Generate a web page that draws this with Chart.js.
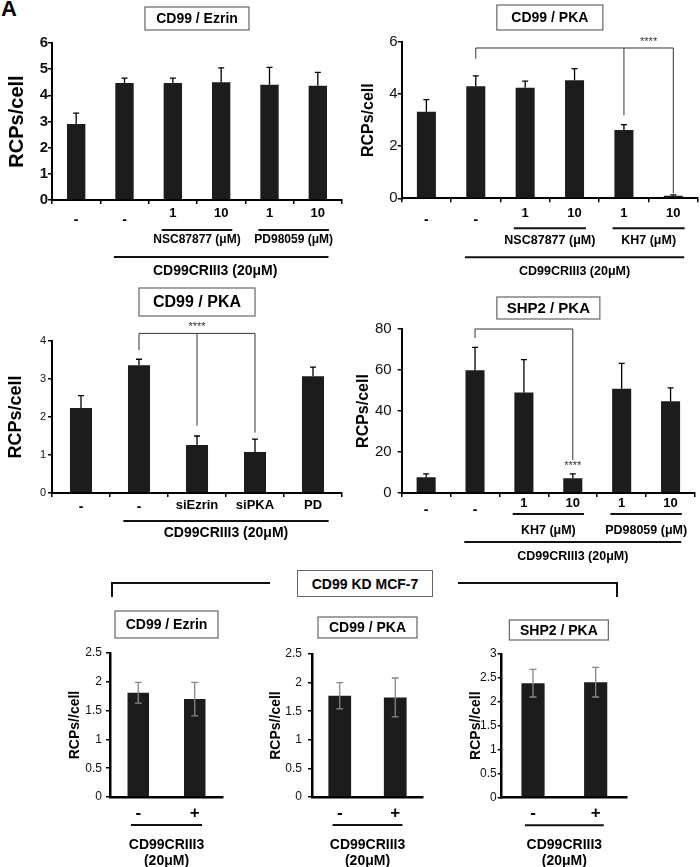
<!DOCTYPE html>
<html>
<head>
<meta charset="utf-8">
<script src="https://cdn.jsdelivr.net/npm/chart.js@4.4.1/dist/chart.umd.min.js"></script>
<style>
  body { margin: 0; background: #fff; font-family: "Liberation Sans", Arial, sans-serif; }
  #fig { position: relative; width: 700px; height: 867px; overflow: hidden; }
  canvas, .abs { position: absolute; }
  .ln { position: absolute; background: #111; }
</style>
</head>
<body>
<div id="fig">
  <div class="abs" style="left:1px;top:-4px;font-weight:bold;font-size:22px;">A</div>
  <canvas id="c1" width="350" height="285" style="left:0;top:0"></canvas>
  <canvas id="c2" width="350" height="285" style="left:350px;top:0"></canvas>
  <canvas id="c3" width="350" height="285" style="left:0;top:285px"></canvas>
  <canvas id="c4" width="350" height="285" style="left:350px;top:285px"></canvas>
  <canvas id="c5" width="233" height="267" style="left:0;top:600px"></canvas>
  <canvas id="c6" width="233" height="267" style="left:233px;top:600px"></canvas>
  <canvas id="c7" width="250" height="267" style="left:450px;top:600px"></canvas>
  <div class="ln" style="left:111px;top:582px;width:159px;height:2px"></div>
  <div class="ln" style="left:111px;top:582px;width:2px;height:15px"></div>
  <div class="ln" style="left:458px;top:582px;width:160px;height:2px"></div>
  <div class="ln" style="left:616px;top:582px;width:2px;height:15px"></div>
  <div class="abs" style="left:297px;top:570px;width:134px;height:25px;border:1px solid #666;font-weight:bold;font-size:14px;line-height:26px;text-align:center">CD99 KD MCF-7</div>
</div>
<script>
const FONT = '"Liberation Sans", Arial, sans-serif';
const treatment = 'CD99CRIII3 (20μM)';

// CD99 / Ezrin (top left)
const ezrinLabels = ['-', '-', '1', '10', '1', '10'];
const ezrinMeans = [2.9, 4.47, 4.47, 4.5, 4.4, 4.37];
const ezrinSd = [0.42, 0.19, 0.19, 0.55, 0.67, 0.51];
const ezrinGroups = [['NSC87877 (μM)', 2, 3], ['PD98059 (μM)', 4, 5]];

// CD99 / PKA (top right)
const pkaLabels = ['-', '-', '1', '10', '1', '10'];
const pkaMeans = [3.32, 4.3, 4.24, 4.53, 2.62, 0.1];
const pkaSd = [0.47, 0.4, 0.26, 0.45, 0.21, 0.03];
const pkaGroups = [['NSC87877 (μM)', 2, 3], ['KH7 (μM)', 4, 5]];
const pkaBracket = { top: 5.77, legs: [[1, 5.36], [4, 3.19], [5, 0.19]], stars: [4.5, 5.87] };

// CD99 / PKA with siRNA (middle left)
const siLabels = ['-', '-', 'siEzrin', 'siPKA', 'PD'];
const siMeans = [2.24, 3.36, 1.26, 1.08, 3.07];
const siSd = [0.32, 0.16, 0.24, 0.34, 0.24];
const siBracket = { top: 4.2, legs: [[1, 3.76], [2, 1.77], [3, 1.59]], stars: [2, 4.28] };

// SHP2 / PKA (middle right)
const shpLabels = ['-', '-', '1', '10', '1', '10'];
const shpMeans = [7.7, 59.9, 49, 7.2, 50.9, 44.7];
const shpSd = [1.6, 11.1, 16.1, 2.1, 12.3, 6.6];
const shpGroups = [['KH7 (μM)', 2, 3], ['PD98059 (μM)', 4, 5]];
const shpBracket = { top: 80, legs: [[1, 75.6], [3, 16.1]], stars: [3, 11.85] };

// CD99 KD MCF-7 (bottom row)
const kdLabels = ['-', '+'];
const kdEzrinMeans = [1.81, 1.70];
const kdEzrinSd = [0.18, 0.29];
const kdPkaMeans = [1.77, 1.74];
const kdPkaSd = [0.23, 0.34];
const kdShpMeans = [2.39, 2.41];
const kdShpSd = [0.29, 0.31];

// draws error bars, title boxes, the labels under the axis and the brackets
const annotate = {
  id: 'annotate',
  afterDatasetsDraw(chart, args, o) {
    const ds = chart.data.datasets[0];
    const bars = chart.getDatasetMeta(0).data;
    const y = chart.scales.y;
    const ctx = chart.ctx;
    ctx.save();
    ctx.strokeStyle = o.errColor;
    ctx.lineWidth = o.errWidth;
    bars.forEach((bar, i) => {
      const m = ds.data[i], e = ds.errors[i];
      const top = y.getPixelForValue(m + e);
      const low = y.getPixelForValue(o.errBoth ? m - e : m);
      ctx.beginPath();
      ctx.moveTo(bar.x, low); ctx.lineTo(bar.x, top);
      ctx.moveTo(bar.x - o.cap, top); ctx.lineTo(bar.x + o.cap, top);
      if (o.errBoth) { ctx.moveTo(bar.x - o.cap, low); ctx.lineTo(bar.x + o.cap, low); }
      ctx.stroke();
    });
    ctx.restore();
  },
  afterDraw(chart, args, o) {
    const ctx = chart.ctx, a = chart.chartArea, x = chart.scales.x, y = chart.scales.y;
    const step = (a.right - a.left) / chart.data.labels.length;
    const px = i => x.getPixelForValue(i);
    const write = (s, cx, cy, size, weight) => {
      ctx.font = `${weight || 'bold'} ${size}px ${FONT}`;
      ctx.fillText(s, cx, cy);
    };
    ctx.save();
    ctx.fillStyle = '#000';
    ctx.textAlign = 'center';
    ctx.textBaseline = 'middle';

    // title box
    const b = o.box;
    const bx = (a.left + a.right) / 2 + (b.dx || 0);
    ctx.strokeStyle = '#666';
    ctx.lineWidth = 1.2;
    ctx.strokeRect(bx - b.w / 2, b.y, b.w, b.h);
    write(b.text, bx, b.y + b.h / 2 + 1, b.size);

    // category labels
    chart.data.labels.forEach((l, i) => {
      const sign = l === '-' || l === '+';
      write(l, px(i), a.bottom + (sign ? o.signY : o.labelY), sign ? o.signSize : o.labelSize);
    });

    ctx.strokeStyle = '#111';
    ctx.lineWidth = 2;
    const span = (from, to, pad, ly) => {
      ctx.beginPath();
      ctx.moveTo(px(from) - pad * step, a.bottom + ly);
      ctx.lineTo(px(to) + pad * step, a.bottom + ly);
      ctx.stroke();
      return (px(from) + px(to)) / 2;
    };
    (o.groups || []).forEach(g => {
      const cx = span(g[1], g[2], o.pad, o.groupLineY);
      write(g[0], cx, a.bottom + o.groupY, o.textSize);
    });
    const t = o.treat;
    const tx = span(t.from, t.to, o.treatPad, o.treatLineY);
    t.text.forEach((s, k) => write(s, tx + (o.treatDx || 0), a.bottom + o.treatY[k], o.treatSize));

    // significance bracket
    if (o.bracket) {
      const br = o.bracket, top = y.getPixelForValue(br.top);
      ctx.strokeStyle = '#333';
      ctx.lineWidth = 1;
      ctx.beginPath();
      ctx.moveTo(px(br.legs[0][0]), top);
      ctx.lineTo(px(br.legs[br.legs.length - 1][0]), top);
      br.legs.forEach(l => {
        ctx.moveTo(px(l[0]), top);
        ctx.lineTo(px(l[0]), y.getPixelForValue(l[1]));
      });
      ctx.stroke();
      ctx.textBaseline = 'alphabetic';
      ctx.fillStyle = '#333';
      write('****', px(br.stars[0]), y.getPixelForValue(br.stars[1]), 11, 'normal');
    }
    ctx.restore();
  }
};

function makeChart(id, s) {
  return new Chart(document.getElementById(id), {
    type: 'bar',
    data: {
      labels: s.labels,
      datasets: [{
        data: s.means,
        errors: s.sd,
        backgroundColor: '#1c1c1c',
        borderWidth: 0,
        categoryPercentage: 1,
        barPercentage: s.barPct
      }]
    },
    options: {
      responsive: false,
      animation: false,
      devicePixelRatio: 1,
      layout: { padding: s.padding },
      plugins: { legend: { display: false }, tooltip: { enabled: false }, annotate: s.annot },
      scales: {
        x: {
          offset: true,
          grid: { display: true, offset: true, drawOnChartArea: false, drawTicks: s.xTicks, tickLength: 4, color: '#000', lineWidth: 1.5 },
          border: { display: true, color: '#000', width: s.axisWidth },
          ticks: { display: false },
          afterFit: sc => { sc.height = s.xHeight; }
        },
        y: {
          min: 0,
          max: s.max,
          grid: { display: true, drawOnChartArea: false, drawTicks: true, tickLength: 4, color: '#000', lineWidth: 1.5 },
          border: { display: true, color: '#000', width: s.axisWidth },
          ticks: {
            stepSize: s.step,
            padding: s.tickPad,
            color: '#111',
            font: { family: FONT, size: s.tickSize, weight: s.tickWeight },
            callback: v => String(v)
          },
          title: {
            display: true,
            text: s.yTitle,
            color: '#000',
            font: { family: FONT, size: s.titleSize, weight: 'bold' },
            padding: { top: 4, bottom: 0 }
          },
          afterFit: sc => { sc.width = s.yWidth; }
        }
      }
    },
    plugins: [annotate]
  });
}

const topErr = { errColor: '#000', errWidth: 1.3, cap: 3, errBoth: false, labelSize: 13, signSize: 14, textSize: 12, pad: 0.23, treatPad: 0.22 };
const kdErr = { errColor: '#888', errWidth: 1.3, cap: 3.5, errBoth: true, labelSize: 13, signSize: 17, treatSize: 14, treatPad: 0.13, signY: 16, labelY: 16, treatLineY: 28, treatY: [48, 64] };

makeChart('c1', {
  labels: ezrinLabels, means: ezrinMeans, sd: ezrinSd, barPct: 0.38,
  padding: { left: 1, right: 8, top: 43, bottom: 0 }, yWidth: 51, xHeight: 85,
  max: 6, step: 1, tickSize: 15, tickWeight: 'bold', tickPad: 0, titleSize: 20, yTitle: 'RCPs/cell',
  axisWidth: 2, xTicks: true,
  annot: Object.assign({}, topErr, {
    box: { text: 'CD99 / Ezrin', w: 104, h: 23, y: 7, size: 14 },
    labelY: 13, signY: 20, groups: ezrinGroups, groupLineY: 30, groupY: 40,
    treat: { text: [treatment], from: 1, to: 5 }, treatLineY: 57, treatY: [71], treatSize: 14, treatDx: -6
  })
});

makeChart('c2', {
  labels: pkaLabels, means: pkaMeans, sd: pkaSd, barPct: 0.385,
  padding: { left: 5, right: 2, top: 42, bottom: 0 }, yWidth: 46.7, xHeight: 86.7,
  max: 6, step: 2, tickSize: 15, tickWeight: 'normal', tickPad: 0, titleSize: 16, yTitle: 'RCPs/cell',
  axisWidth: 2, xTicks: true,
  annot: Object.assign({}, topErr, {
    box: { text: 'CD99 / PKA', w: 106, h: 25, y: 5, size: 14 },
    labelY: 15, signY: 22, groups: pkaGroups, groupLineY: 30, groupY: 42, textSize: 12.5,
    treat: { text: [treatment], from: 1, to: 5 }, treatLineY: 59, treatY: [73], treatSize: 12.5,
    bracket: pkaBracket
  })
});

makeChart('c3', {
  labels: siLabels, means: siMeans, sd: siSd, barPct: 0.38,
  padding: { left: 1, right: 8, top: 56, bottom: 0 }, yWidth: 51, xHeight: 77,
  max: 4, step: 1, tickSize: 11, tickWeight: 'normal', tickPad: 2, titleSize: 18, yTitle: 'RCPs/cell',
  axisWidth: 2, xTicks: true,
  annot: Object.assign({}, topErr, {
    box: { text: 'CD99 / PKA', w: 116, h: 28, y: 3, size: 16 },
    labelY: 12, signY: 14, groups: [],
    treat: { text: [treatment], from: 1, to: 4 }, treatPad: 0.27, treatLineY: 28, treatY: [40], treatSize: 14,
    bracket: siBracket
  })
});

makeChart('c4', {
  labels: shpLabels, means: shpMeans, sd: shpSd, barPct: 0.39,
  padding: { left: 0, right: 5, top: 44, bottom: 0 }, yWidth: 51.7, xHeight: 77,
  max: 80, step: 20, tickSize: 15, tickWeight: 'normal', tickPad: 6, titleSize: 16, yTitle: 'RCPs/cell',
  axisWidth: 2, xTicks: true,
  annot: Object.assign({}, topErr, {
    box: { text: 'SHP2 / PKA', w: 103, h: 22, y: 12, size: 15 },
    labelY: 10, signY: 17, groups: shpGroups, groupLineY: 21, groupY: 38, textSize: 12.5,
    treat: { text: [treatment], from: 1, to: 5 }, treatLineY: 49, treatY: [64], treatSize: 12.5,
    bracket: shpBracket
  })
});

makeChart('c5', {
  labels: kdLabels, means: kdEzrinMeans, sd: kdEzrinSd, barPct: 0.38,
  padding: { left: 62.6, right: 10, top: 53, bottom: 0 }, yWidth: 47.4, xHeight: 70,
  max: 2.5, step: 0.5, tickSize: 12, tickWeight: 'normal', tickPad: 4, titleSize: 14, yTitle: 'RCPs//cell',
  axisWidth: 2.5, xTicks: false,
  annot: Object.assign({}, kdErr, {
    box: { text: 'CD99 / Ezrin', w: 103, h: 27, y: 11, size: 14 },
    treat: { text: ['CD99CRIII3', '(20μM)'], from: 0, to: 1 }
  })
});

makeChart('c6', {
  labels: kdLabels, means: kdPkaMeans, sd: kdPkaSd, barPct: 0.41,
  padding: { left: 30.6, right: 43, top: 54, bottom: 0 }, yWidth: 48.4, xHeight: 70,
  max: 2.5, step: 0.5, tickSize: 12, tickWeight: 'normal', tickPad: 6, titleSize: 14, yTitle: 'RCPs//cell',
  axisWidth: 2.5, xTicks: false,
  annot: Object.assign({}, kdErr, {
    box: { text: 'CD99 / PKA', w: 99, h: 21, y: 17, size: 14 },
    treat: { text: ['CD99CRIII3', '(20μM)'], from: 0, to: 1 }
  })
});

makeChart('c7', {
  labels: kdLabels, means: kdShpMeans, sd: kdShpSd, barPct: 0.37,
  padding: { left: 13.6, right: 73, top: 54, bottom: 0 }, yWidth: 38.1, xHeight: 69.7,
  max: 3, step: 0.5, tickSize: 12, tickWeight: 'normal', tickPad: 1, titleSize: 14, yTitle: 'RCPs//cell',
  axisWidth: 2.5, xTicks: false,
  annot: Object.assign({}, kdErr, {
    box: { text: 'SHP2 / PKA', w: 99, h: 20, y: 20, size: 14, dx: -5.5 },
    treat: { text: ['CD99CRIII3', '(20μM)'], from: 0, to: 1 }
  })
});
</script>
</body>
</html>
